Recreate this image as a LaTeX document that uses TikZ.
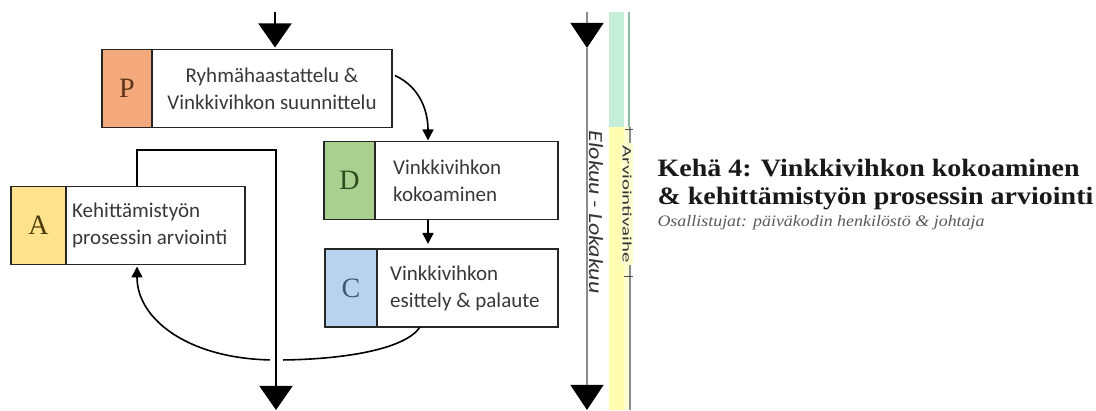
\documentclass[tikz,border=0pt]{standalone}
\usepackage{fontspec}
\usepackage{tikz}
\usetikzlibrary{arrows.meta,positioning}
\newfontfamily\boxfont{Carlito}
\newfontfamily\cellfont{Liberation Serif}
\newfontfamily\headfont[FakeStretch=1.12]{Liberation Serif}
\newfontfamily\phasefont[FakeStretch=1.6]{Carlito}
\newfontfamily\monthfont[FakeStretch=1.2]{Carlito}
\definecolor{pcol}{HTML}{F4A97C}
\definecolor{dcol}{HTML}{A9D08E}
\definecolor{ccol}{HTML}{B8D3EE}
\definecolor{acol}{HTML}{FFE28C}
\definecolor{pletter}{HTML}{5C3418}
\definecolor{dletter}{HTML}{2E4A1E}
\definecolor{cletter}{HTML}{3E566E}
\definecolor{aletter}{HTML}{4A3A0C}
\definecolor{mint}{HTML}{C4EEDA}
\definecolor{mintline}{HTML}{8DB9A2}
\definecolor{lemon}{HTML}{FFFDB0}
\tikzset{cell/.style={draw=black!85,line width=1.6pt,outer sep=0pt,inner sep=0pt,minimum height=78pt},
  letter/.style={cell,font=\cellfont\fontsize{28}{28}\selectfont},
  boxtext/.style={inner sep=0pt,align=left,text=black!78,font=\boxfont\fontsize{21}{27}\selectfont},
  flow/.style={line width=1.8pt,-{Triangle[length=24pt,width=33pt]}},
  smallarrow/.style={line width=1.6pt,-{Triangle[length=11pt,width=11pt]}},
  timeline/.style={draw=black!45,line width=1.3pt,-{Triangle[length=25pt,width=33pt,black]}}}
\begin{document}
\begin{tikzpicture}[x=1pt,y=1pt]
\useasboundingbox (0,0) rectangle (1096,410);
% vaihepalkki
\fill[mint] (609,398) rectangle (624,283);
\fill[lemon!60] (609,283) rectangle (630,0);
\fill[lemon] (609,283) rectangle (624,0);
\draw[mintline,line width=2pt] (629,398) -- (629,283);
\draw[black!45,line width=1.3pt] (630,283) -- (630,0);
\node[rotate=-90,fill=lemon!60,inner xsep=3pt,inner ysep=1pt,text=black!80,font=\phasefont\fontsize{13}{13}\selectfont] (phase) at (627,206) {Arviointivaihe};
\draw[black!70,line width=1pt] (625,280) -- (633,280);
\draw[black!70,line width=1pt] (624,133) -- (633,133);
% aikajana
\coordinate (Ttop) at (587,398);
\coordinate (Tmid) at (587,362);
\coordinate (Tbot) at (587,0);
\draw[timeline] (Ttop) -- (Tmid);
\draw[timeline] (Tmid) -- (Tbot);
\node[rotate=-90,text=black!80,font=\monthfont\itshape\fontsize{20}{20}\selectfont] (months) at (596,198) {Elokuu - Lokakuu};
% P
\node[letter,fill=pcol,text=pletter,minimum width=50pt] (Pl) at (127,321.5) {P};
\node[cell,minimum width=240pt,right=0pt of Pl] (Pt) {};
\node[boxtext,align=center] (Ptext) at (Pt.center) {Ryhmähaastattelu \&\\Vinkkivihkon suunnittelu};
% D
\node[letter,fill=dcol,text=dletter,minimum width=51pt] (Dl) at (349.5,229.5) {D};
\node[cell,minimum width=183pt,right=0pt of Dl] (Dt) {};
\node[boxtext,anchor=west] (Dtext) at ([xshift=18pt]Dt.west) {Vinkkivihkon\\kokoaminen};
% C
\node[letter,fill=ccol,text=cletter,minimum width=52pt] (Cl) at (351,122) {C};
\node[cell,minimum width=181pt,right=0pt of Cl] (Ct) {};
\node[boxtext,anchor=west] (Ctext) at ([xshift=13pt]Ct.west) {Vinkkivihkon\\esittely \& palaute};
% A
\node[letter,fill=acol,text=aletter,minimum width=55pt] (Al) at (38.5,184.5) {A};
\node[cell,minimum width=179pt,right=0pt of Al] (At) {};
\node[boxtext,anchor=west] (Atext) at ([xshift=6pt]At.west) {Kehittämistyön\\prosessin arviointi};
% nuolet
\coordinate (Pin) at (275,398);
\coordinate (Dx) at (428,0);
\coordinate (Cx) at (420,0);
\coordinate (Lx) at (137,260);
\coordinate (Lturn) at (276,260);
\coordinate (Lend) at (276,0);
\draw[flow,shorten >=2pt] (Pin) -- (Pin |- Pt.north);
\draw[smallarrow,shorten >=1pt] ([shift={(3pt,13pt)}]Pt.east) to[out=-25,in=90] (Dx |- Dt.north);
\draw[smallarrow,shorten >=5pt] (Dx |- Dt.south) -- (Dx |- Ct.north);
\draw[smallarrow,shorten >=2pt] (Cx |- Ct.south) .. controls (405,60) and (340,50) .. (276,50) .. controls (190,50) and (137,90) .. (Lx |- At.south);
\fill[white] (270,44) rectangle (283,56);
\draw[flow] (Lx |- At.north) -- (Lx) -- (Lturn) -- (Lend);
% otsikko
\node[anchor=base west,text=black!90,font=\headfont\bfseries\fontsize{25}{25}\selectfont] (title1) at (654,233) {Kehä 4: Vinkkivihkon kokoaminen};
\node[anchor=base west,text=black!90,font=\headfont\bfseries\fontsize{25}{25}\selectfont] (title2) at (654,205) {\& kehittämistyön prosessin arviointi};
\node[anchor=base west,text=black!65,font=\headfont\itshape\fontsize{16}{16}\selectfont] (subtitle) at (654,183) {Osallistujat: päiväkodin henkilöstö \& johtaja};
\end{tikzpicture}
\end{document}
